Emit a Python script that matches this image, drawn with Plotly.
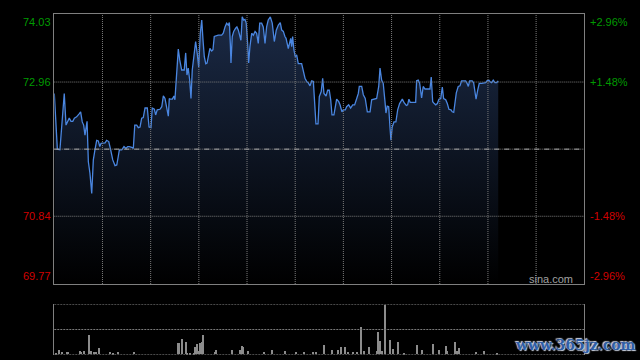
import plotly.graph_objects as go

# ---- data (minutes since 09:30 open on a 330-minute HK session) ----
minutes = [0, 1.9, 3.5, 6.2, 7.3, 9.3, 10.4, 11.5, 12.5, 13.9, 15.6, 16.4, 17.4, 18.3, 19.1, 20.4, 21.2, 22.2, 23.3, 24.3,
           25.3, 26.4, 27.4, 28.3, 29.1, 30.5, 31.6, 32.6, 33.9, 35.1, 36.4, 37.8, 38.9, 39.8, 40.5, 42.0, 43.4, 44.6, 45.7, 46.7,
           48.2, 49.2, 50.1, 51.3, 52.3, 53.4, 54.4, 55.4, 56.5, 57.9, 59.0, 60.2, 61.0, 62.3, 63.1, 64.1, 65.8, 66.9, 67.9, 68.9,
           70.0, 71.0, 71.6, 72.0, 73.5, 74.5, 75.1, 75.8, 76.4, 77.2, 78.1, 79.3, 80.9, 81.8, 82.6, 83.4, 84.3, 85.1, 85.9, 87.2,
           88.0, 89.0, 89.9, 90.9, 91.8, 92.6, 93.4, 94.3, 95.1, 95.9, 96.9, 98.0, 98.8, 99.6, 102.1, 104.2, 105.2, 106.3, 107.3, 108.3,
           109.0, 109.6, 110.0, 110.8, 111.7, 112.9, 113.7, 114.6, 115.4, 116.2, 117.0, 117.9, 118.7, 119.5, 120.4, 121.0, 121.8, 122.9, 123.9, 125.0,
           126.0, 127.0, 127.9, 129.1, 130.1, 131.2, 132.2, 133.2, 134.5, 135.7, 137.0, 138.2, 139.5, 140.7, 141.6, 142.6, 143.6, 144.3, 145.7, 147.2,
           147.8, 148.4, 149.2, 150.0, 150.9, 151.9, 154.0, 155.0, 156.1, 157.1, 158.1, 159.2, 160.3, 161.3, 162.1, 162.9, 164.2, 165.0, 166.2, 167.1,
           167.9, 169.2, 170.2, 171.2, 172.1, 172.9, 174.1, 175.0, 175.8, 177.1, 177.9, 179.1, 179.9, 181.2, 182.0, 183.3, 184.5, 185.8, 187.0, 188.3,
           189.3, 189.9, 191.4, 192.4, 193.6, 194.9, 196.6, 197.6, 198.6, 200.7, 202.0, 202.8, 203.8, 204.8, 205.9, 206.5, 207.3, 208.2, 209.0, 209.6,
           210.4, 211.5, 212.7, 213.8, 215.0, 216.7, 217.9, 219.2, 220.0, 220.8, 221.6, 223.5, 225.0, 225.6, 226.6, 227.5, 228.7, 229.7, 230.8, 232.9,
           233.9, 234.7, 235.6, 236.6, 237.5, 238.5, 239.5, 240.6, 241.6, 242.4, 243.7, 244.7, 245.7, 247.0, 247.8, 248.7, 249.5, 250.3, 251.5, 252.6,
           253.6, 254.9, 256.1, 257.0, 257.8, 258.6, 260.2, 261.1, 261.9, 262.6, 263.6, 264.6, 266.1, 267.7, 268.6, 269.4, 270.6, 271.5, 272.3, 273.3,
           274.4, 275.5, 276.4]

prices = [72.78, 71.90, 71.89, 72.78, 72.28, 72.39, 72.34, 72.34, 72.39, 72.41, 72.46, 72.49, 72.33, 72.28, 72.12, 72.34, 71.70, 71.52, 71.20, 71.73,
          71.89, 72.04, 72.03, 71.94, 71.99, 71.99, 72.00, 72.04, 72.02, 71.89, 71.73, 71.64, 71.65, 71.78, 71.89, 71.89, 71.94, 71.91, 71.94, 71.94,
          71.93, 71.91, 72.28, 72.28, 72.24, 72.25, 72.39, 72.40, 72.55, 72.55, 72.25, 72.24, 72.55, 72.53, 72.44, 72.52, 72.53, 72.57, 72.74, 72.70,
          72.52, 72.42, 72.70, 72.69, 72.69, 72.74, 72.68, 72.94, 73.26, 73.48, 73.31, 73.15, 73.15, 73.42, 73.07, 73.18, 72.99, 72.70, 73.15, 73.47,
          73.60, 73.41, 73.20, 73.73, 73.94, 73.62, 73.36, 73.25, 73.26, 73.36, 73.49, 73.45, 73.47, 73.68, 73.70, 73.70, 73.73, 73.83, 73.89, 73.86,
          73.90, 73.57, 73.26, 73.68, 73.76, 73.81, 73.83, 73.78, 73.68, 73.62, 73.99, 73.94, 73.95, 73.89, 73.57, 73.26, 73.52, 73.73, 73.70, 73.76,
          73.73, 73.57, 73.89, 73.89, 73.83, 73.57, 73.83, 73.94, 73.99, 73.89, 73.60, 73.78, 73.86, 73.90, 73.78, 73.76, 73.68, 73.65, 73.49, 73.65,
          73.52, 73.68, 73.47, 73.36, 73.39, 73.25, 73.25, 73.12, 73.02, 72.97, 72.95, 72.90, 72.98, 72.97, 72.68, 72.30, 72.30, 72.73, 72.81, 73.02,
          72.78, 72.74, 72.83, 72.83, 72.68, 72.44, 72.44, 72.60, 72.69, 72.65, 72.60, 72.49, 72.52, 72.52, 72.57, 72.60, 72.55, 72.60, 72.60, 72.70,
          72.78, 72.89, 72.89, 72.76, 72.70, 72.49, 72.49, 72.68, 72.69, 72.70, 72.89, 73.18, 72.99, 72.94, 72.65, 72.47, 72.58, 72.57, 72.25, 72.04,
          72.25, 72.33, 72.33, 72.52, 72.62, 72.69, 72.63, 72.59, 72.60, 72.69, 72.64, 72.64, 72.64, 72.98, 72.99, 72.94, 72.71, 72.89, 72.85, 72.85,
          72.85, 73.04, 72.65, 72.62, 72.60, 72.62, 72.69, 72.70, 72.88, 72.70, 72.68, 72.62, 72.53, 72.52, 72.49, 72.48, 72.60, 72.79, 72.89, 72.90,
          72.98, 72.98, 72.98, 72.94, 72.89, 72.98, 72.98, 72.95, 72.78, 72.69, 72.83, 72.94, 72.94, 72.94, 72.95, 72.98, 72.99, 72.96, 72.95, 72.99,
          72.95, 72.95, 72.98]

vol_minutes = [1, 3, 5, 8, 9, 16, 17, 19, 22, 23, 25, 26, 28, 35, 37, 40, 50, 77, 78, 80, 82, 83, 85, 87, 88, 89, 90, 91, 92, 93,
               100, 101, 111, 116, 117, 118, 121, 131, 136, 144, 151, 156, 161, 163, 168, 173, 177, 179, 181, 183, 186, 189, 191, 193,
               196, 201, 202, 203, 204, 206, 209, 211, 214, 218, 226, 229, 236, 240, 244, 245, 250, 251, 252, 263, 268, 276]
volumes = [3, 14, 6, 8, 6, 11, 6, 11, 59, 11, 8, 6, 20, 7, 5, 8, 8, 35, 35, 47, 38, 5, 5, 5, 23, 32, 11, 35, 38, 59,
           8, 14, 14, 14, 26, 23, 11, 8, 14, 11, 8, 8, 8, 8, 29, 14, 14, 22, 22, 8, 8, 8, 83, 11, 22, 11, 68, 41, 11, 149,
           43, 17, 38, 5, 29, 14, 32, 14, 26, 11, 38, 11, 20, 8, 11, 5]

prev_close = 71.90
price_min, price_max = 69.77, 74.03
price_ticks = [74.03, 72.96, 70.84, 69.77]
price_labels = ["74.03", "72.96", "70.84", "69.77"]
pct_labels = ["+2.96%", "+1.48%", "-1.48%", "-2.96%"]
session_len = 330
grid_minutes = list(range(30, 330, 30))
vol_max = 151

n = min(len(minutes), len(prices))
minutes, prices = minutes[:n], prices[:n]

W, H = 640, 360
PX0, PX1 = 54.3, 584.3
MAIN_T, MAIN_B = 14.3, 284.0
VOL_T, VOL_B = 304.3, 354.7

GREEN = "#009a00"
RED = "#d00000"
GRID = "#7a7a7a"
BORDER = "#7f7f7f"
FONT = "Arial, Liberation Sans, sans-serif"

fig = go.Figure()
fig.add_trace(go.Scatter(
    x=minutes, y=prices, mode="lines",
    line=dict(color="#4a86e0", width=1.3),
    fill="tozeroy",
    fillgradient=dict(type="vertical", colorscale=[[0, "#000000"], [1, "#1b2a46"]],
                      start=price_min, stop=price_max),
    hoverinfo="skip", xaxis="x", yaxis="y"))
fig.add_trace(go.Bar(
    x=vol_minutes, y=volumes, width=0.7,
    marker=dict(color="#8c8c8c", line=dict(width=0)),
    hoverinfo="skip", xaxis="x2", yaxis="y2"))

xdom = [PX0 / W, PX1 / W]
fig.update_layout(
    width=W, height=H, margin=dict(l=0, r=0, t=0, b=0),
    paper_bgcolor="black", plot_bgcolor="black", showlegend=False, bargap=0,
    xaxis=dict(domain=xdom, range=[0, session_len], showticklabels=False, ticks="",
               showgrid=False, zeroline=False, showline=True, mirror=True,
               linecolor=BORDER, linewidth=1),
    yaxis=dict(domain=[1 - MAIN_B / H, 1 - MAIN_T / H], range=[price_min, price_max],
               showticklabels=False, ticks="", showgrid=False, zeroline=False,
               showline=True, mirror=True, linecolor=BORDER, linewidth=1),
    xaxis2=dict(domain=xdom, range=[0, session_len], anchor="y2", showgrid=False,
                showticklabels=False, ticks="", zeroline=False, showline=False),
    yaxis2=dict(domain=[1 - VOL_B / H, 1 - VOL_T / H], range=[0, vol_max], anchor="x2",
                showgrid=False, showticklabels=False, ticks="", zeroline=False,
                showline=True, mirror=True, linecolor=BORDER, linewidth=1),
)

# gridlines drawn above the filled area
for m in grid_minutes:
    fig.add_shape(type="line", xref="x", yref="y domain", x0=m, x1=m, y0=0, y1=1, layer="above",
                  line=dict(color=GRID, width=1, dash="1px,1px"))
for v in price_ticks[1:-1]:
    fig.add_shape(type="line", xref="x domain", yref="y", x0=0, x1=1, y0=v, y1=v, layer="above",
                  line=dict(color=GRID, width=1, dash="1px,1px"))

# previous close reference line (dotted + light dashes)
fig.add_shape(type="line", xref="x domain", yref="y", x0=0, x1=1, y0=prev_close, y1=prev_close,
              layer="above", line=dict(color=GRID, width=1, dash="1px,1px"))
fig.add_shape(type="line", xref="x domain", yref="y", x0=0, x1=1, y0=prev_close, y1=prev_close,
              layer="above", line=dict(color="#a8a8a8", width=1, dash="5px,5px"))

# volume panel dotted guides
for v in [0, vol_max / 2, vol_max]:
    fig.add_shape(type="line", xref="x2 domain", yref="y2", x0=0, x1=1, y0=v, y1=v,
                  line=dict(color=GRID, width=1, dash="2px,1px"))

# axis labels
for i, (val, lab, pct) in enumerate(zip(price_ticks, price_labels, pct_labels)):
    col = GREEN if val > prev_close else RED
    if i == 0:
        ya = "top"
    elif i == len(price_ticks) - 1:
        ya = "bottom"
    else:
        ya = "middle"
    fig.add_annotation(xref="paper", yref="y", x=(PX0 - 1) / W, y=val, text=lab, showarrow=False,
                       xanchor="right", yanchor=ya, font=dict(family=FONT, size=11, color=col))
    fig.add_annotation(xref="paper", yref="y", x=(PX1 + 4) / W, y=val, text=pct, showarrow=False,
                       xanchor="left", yanchor=ya, font=dict(family=FONT, size=11, color=col))

fig.add_annotation(xref="paper", yref="paper", x=575 / W, y=1 - 279.3 / H, text="sina.com",
                   showarrow=False, xanchor="right", yanchor="middle",
                   font=dict(family=FONT, size=11, color="#a0a0a0"))
fig.add_annotation(xref="paper", yref="paper", x=575 / W, y=1 - 345 / H, text="<b>www.365jz.com</b>",
                   showarrow=False, xanchor="center", yanchor="middle",
                   font=dict(family="DejaVu Serif", size=14, color="#2f5fa8",
                             shadow="1px 1px 1px #d0d8e8, -1px -1px 1px #d0d8e8"))

fig.write_html("out.html")
